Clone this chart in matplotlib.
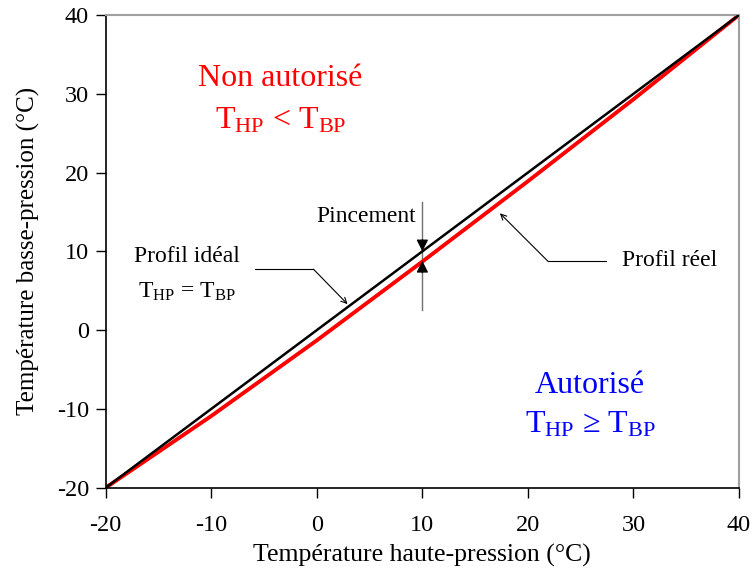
import matplotlib
matplotlib.use("Agg")
import matplotlib.pyplot as plt

plt.rcParams['font.family'] = ['Liberation Serif', 'DejaVu Serif']
plt.rcParams['mathtext.fontset'] = 'custom'
plt.rcParams['mathtext.rm'] = 'Liberation Serif'
plt.rcParams['mathtext.it'] = 'Liberation Serif:italic'
plt.rcParams['axes.unicode_minus'] = False

# profil idéal (T_HP = T_BP) et profil réel
ideal_x = [-20, 40]
ideal_y = [-20, 40]
reel_x = [-20, -10, 0, 10, 20, 30, 40]
reel_y = [-20, -10.9, -1.3, 8.7, 18.9, 29.3, 40]

xticks = [-20, -10, 0, 10, 20, 30, 40]
yticks = [-20, -10, 0, 10, 20, 30, 40]

fig = plt.figure(figsize=(7.53, 5.71), dpi=100)
ax = fig.add_axes([0.1404, 0.1459, 0.8410, 0.8278])

ax.plot(ideal_x, ideal_y, color='black', lw=1.8, zorder=3)
ax.plot(reel_x, reel_y, color='red', lw=2.8, zorder=2)

ax.set_xlim(-20, 40)
ax.set_ylim(-20, 40)
ax.set_xticks(xticks)
ax.set_yticks(yticks)
ax.tick_params(direction='out', length=7, width=1, labelsize=17.5)
ax.tick_params(axis='x', pad=13)
ax.tick_params(axis='y', pad=5)
for s in ['top', 'right']:
    ax.spines[s].set_color('#a0a0a0')
    ax.spines[s].set_linewidth(1.5)
for s in ['left', 'bottom']:
    ax.spines[s].set_color('black')
    ax.spines[s].set_linewidth(1.2)

ax.set_xlabel('Température haute-pression (°C)', fontsize=18.5, labelpad=5)
ax.set_ylabel('Température basse-pression (°C)', fontsize=18, labelpad=12)

# zones
ax.text(-3.45, 32.0, 'Non autorisé', color='red', fontsize=23, ha='center', va='center')
ax.text(-3.45, 26.6, r'T$_{\mathrm{HP}}$ < T$_{\mathrm{BP}}$', color='red', fontsize=23,
        ha='center', va='center')
ax.text(25.9, -7.0, 'Autorisé', color='blue', fontsize=23, ha='center', va='center')
ax.text(25.9, -12.0, r'T$_{\mathrm{HP}}$ ≥ T$_{\mathrm{BP}}$', color='blue', fontsize=23,
        ha='center', va='center')

# profil idéal
ax.text(-12.3, 9.3, 'Profil idéal', fontsize=17, ha='center', va='center')
ax.text(-12.3, 4.8, r'T$_{\mathrm{HP}}$ = T$_{\mathrm{BP}}$', fontsize=17, ha='center', va='center')
ax.plot([-5.83, -0.32], [7.74, 7.74], color='black', lw=0.8)
ax.annotate('', xy=(2.91, 3.3), xytext=(-0.32, 7.74),
            arrowprops=dict(arrowstyle='->', color='black', lw=0.8, shrinkA=0, shrinkB=0))

# profil réel
ax.text(28.9, 8.9, 'Profil réel', fontsize=17, ha='left', va='center')
ax.plot([27.41, 21.9], [8.74, 8.74], color='black', lw=0.8)
ax.annotate('', xy=(17.35, 14.83), xytext=(21.9, 8.74),
            arrowprops=dict(arrowstyle='->', color='black', lw=0.8, shrinkA=0, shrinkB=0))

# pincement
ax.text(9.38, 14.4, 'Pincement', fontsize=17, ha='right', va='center')
ax.plot([10, 10], [2.5, 16.3], color='#707070', lw=1.0, zorder=1)
ax.annotate('', xy=(10, 10.0), xytext=(10, 11.5),
            arrowprops=dict(arrowstyle='-|>', color='black', lw=0.8,
                            mutation_scale=18, shrinkA=0, shrinkB=0), zorder=5)
ax.annotate('', xy=(10, 8.8), xytext=(10, 7.3),
            arrowprops=dict(arrowstyle='-|>', color='black', lw=0.8,
                            mutation_scale=18, shrinkA=0, shrinkB=0), zorder=5)

fig.savefig('out.png', dpi=100)
